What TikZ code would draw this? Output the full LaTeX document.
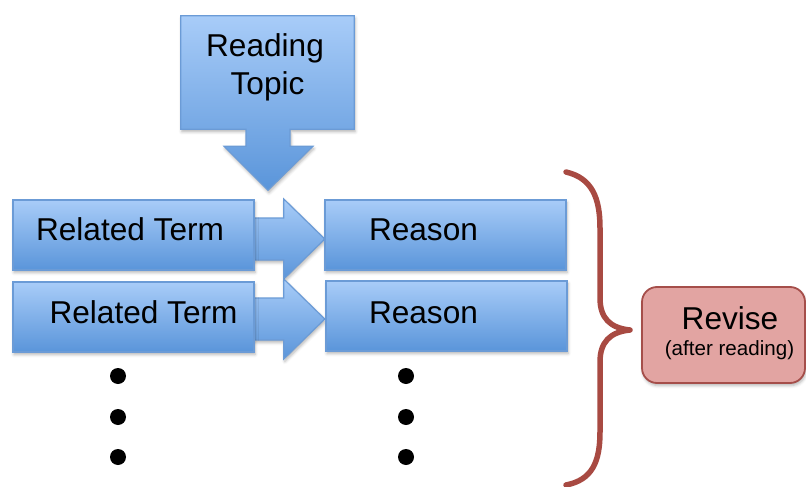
\documentclass[tikz,border=0pt]{standalone}
\usepackage{fontspec}
\setmainfont{Liberation Sans}
\usetikzlibrary{calc,shadows.blur}

\definecolor{bluetop}{HTML}{A8CCF8}
\definecolor{bluebot}{HTML}{5A95DA}
\definecolor{blueedge}{HTML}{6B9BD6}
\definecolor{revfill}{HTML}{E2A4A2}
\definecolor{revedge}{HTML}{A54E4A}
\definecolor{bracecol}{HTML}{A84A42}

\tikzset{
  softshadow/.style={blur shadow={shadow xshift=1pt, shadow yshift=-2.5pt,
      shadow blur radius=3pt, shadow opacity=30}},
  bluefill/.style={top color=bluetop, bottom color=bluebot, draw=blueedge,
      line width=1.2pt, softshadow},
  bluebox/.style={bluefill, rectangle, minimum width=241pt, minimum height=70pt,
      inner sep=0pt},
  holder/.style={rectangle, inner sep=0pt},
  lbl/.style={anchor=base, inner sep=0pt, font=\fontsize{31.6}{37}\selectfont},
  smalllbl/.style={anchor=base, inner sep=0pt, font=\fontsize{20.6}{24}\selectfont},
  revbox/.style={rectangle, rounded corners=15pt, fill=revfill, draw=revedge,
      line width=1.8pt, inner sep=0pt, softshadow},
  dotmark/.style={circle, fill=black, minimum size=16pt, inner sep=0pt},
  bracestroke/.style={draw=bracecol, line width=5.5pt, line cap=round, line join=round},
}

% block arrow from #1 to #2 (both on the same horizontal line)
\newcommand\blockarrow[2]{%
  \path[bluefill] ($(#1)+(0,-21)$) -- ($(#2)+(-41,-21)$) -- ($(#2)+(-41,-40)$)
    -- (#2) -- ($(#2)+(-41,40)$) -- ($(#2)+(-41,21)$) -- ($(#1)+(0,21)$) -- cycle;}

\begin{document}
\begin{tikzpicture}[x=1pt,y=-1pt]
\useasboundingbox (0,0) rectangle (806,487);

% topic callout: box with a downward arrow
\node[holder, minimum width=173pt, minimum height=113pt] (topic) at (267.5,72.5) {};
\path[bluefill] (topic.north west) -- (topic.north east) -- (topic.south east)
  -- ($(topic.south)+(22.5,0)$) -- ($(topic.south)+(22.5,17)$)
  -- ($(topic.south)+(45.5,17)$) -- ($(topic.south)+(0.5,61)$)
  -- ($(topic.south)+(-43.5,17)$) -- ($(topic.south)+(-21.5,17)$)
  -- ($(topic.south)+(-21.5,0)$) -- (topic.south west) -- cycle;
\node[lbl] (topicA) at (265,57) {Reading};
\node[lbl] (topicB) at (267.5,94) {Topic};

% rows of terms and reasons
\node[holder, minimum width=241pt, minimum height=70pt] (rt1) at (133.5,235) {};
\node[holder, minimum width=241pt, minimum height=70pt] (rt2) at (133.5,317) {};
\node[holder, minimum width=241pt, minimum height=70pt] (rs1) at (445.5,235) {};
\node[holder, minimum width=241pt, minimum height=70pt] (rs2) at (446.5,316) {};

\coordinate (a1s) at ($(rt1.east)+(0,4)$);
\coordinate (a1e) at ($(rs1.west)+(0,4)$);
\coordinate (a2s) at ($(rt2.east)+(0,2)$);
\coordinate (a2e) at ($(rs2.west)+(-1,3)$);
\blockarrow{a1s}{a1e}
\blockarrow{a2s}{a2e}

\node[bluebox] at (rt1) {};
\node[bluebox] at (rt2) {};
\node[bluebox] at (rs1) {};
\node[bluebox] at (rs2) {};

\node[lbl] (rt1t) at (130,240) {Related Term};
\node[lbl] (rt2t) at (143.5,323) {Related Term};
\node[lbl] (rs1t) at (423.5,240) {Reason};
\node[lbl] (rs2t) at (423.5,323) {Reason};

% continuation dots
\foreach \y [count=\i] in {376,417,457} {
  \node[dotmark] (dl\i) at (118,\y) {};
  \node[dotmark] (dr\i) at (406,\y) {};
}

% curly brace
\path[bracestroke] (566,172) .. controls (592,178) and (600,198) .. (600,228)
  -- (600,298) .. controls (600,318) and (610,328) .. (630,330)
  .. controls (610,332) and (600,342) .. (600,362)
  -- (600,432) .. controls (600,462) and (592,480) .. (566,485);

% revise box
\node[revbox, minimum width=163pt, minimum height=96pt] (revise) at (723.5,335) {};
\node[lbl] (revA) at (730,329) {Revise};
\node[smalllbl] (revB) at (729.5,355) {(after reading)};
\end{tikzpicture}
\end{document}
